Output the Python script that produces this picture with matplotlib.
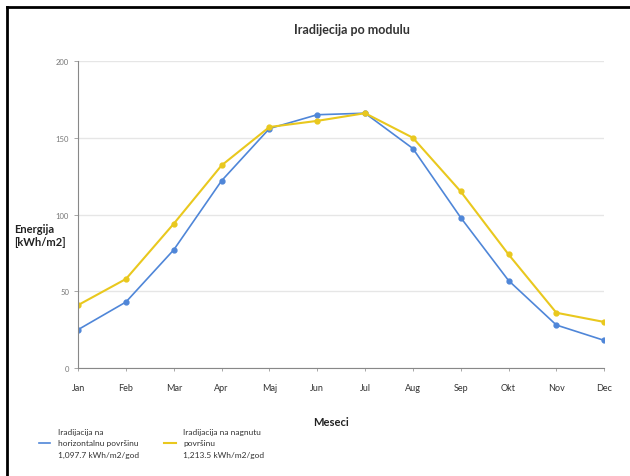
import matplotlib
matplotlib.use('Agg')
import matplotlib.pyplot as plt
from matplotlib.lines import Line2D

plt.rcParams['font.family'] = ['Lato', 'DejaVu Sans']

# Data
months = ['Jan', 'Feb', 'Mar', 'Apr', 'Maj', 'Jun', 'Jul', 'Aug', 'Sep', 'Okt', 'Nov', 'Dec']
horizontal = [25, 43, 77, 122, 156, 165, 166, 143, 98, 57, 28, 18]
tilted = [41, 58, 94, 132, 157, 161, 166, 150, 115, 74, 36, 30]
label_h = 'Iradijacija na\nhorizontalnu površinu\n1,097.7 kWh/m2/god'
label_t = 'Iradijacija na nagnutu\npovršinu\n1,213.5 kWh/m2/god'

blue = '#4f86d8'
yellow = '#e9c81e'

fig = plt.figure(figsize=(6.3, 4.77), dpi=100)
ax = fig.add_axes([0.124, 0.2264, 0.835, 0.6436])

x = list(range(len(months)))
ax.plot(x, horizontal, color=blue, marker='o', markersize=3.5, linewidth=1.2)
ax.plot(x, tilted, color=yellow, marker='o', markersize=3.5, linewidth=1.5)

ax.set_xlim(0, 11)
ax.set_ylim(0, 200)
ax.set_yticks([0, 50, 100, 150, 200])
ax.set_xticks(x)
ax.set_xticklabels(months, fontsize=6.5, color='#333333')
ax.tick_params(axis='y', labelsize=5.5, labelcolor='#777777', color='#999999', length=3, width=0.6)
ax.tick_params(axis='x', color='#999999', length=2.5, width=0.6, pad=8)
ax.grid(axis='y', color='#e6e6e6', linewidth=1)
ax.set_axisbelow(True)
for s in ['top', 'right']:
    ax.spines[s].set_visible(False)
ax.spines['left'].set_color('#888888')
ax.spines['bottom'].set_color('#888888')
ax.spines['left'].set_linewidth(0.8)
ax.spines['bottom'].set_linewidth(0.8)

fig.text(0.559, 0.937, 'Iradijecija po modulu', ha='center', va='center',
         fontsize=9, fontweight='bold', color='#333333')
fig.text(0.022, 0.505, 'Energija\n[kWh/m2]', ha='left', va='center',
         fontsize=8, fontweight='bold', color='#222222', linespacing=1.3)
fig.text(0.525, 0.115, 'Meseci', ha='center', va='center',
         fontsize=8, fontweight='bold', color='#222222')

handles = [Line2D([0], [0], color=blue, linewidth=1.2),
           Line2D([0], [0], color=yellow, linewidth=1.5)]
leg = fig.legend(handles, [label_h, label_t], loc='upper left', bbox_to_anchor=(0.055, 0.11),
                 ncol=2, frameon=False, fontsize=6, handlelength=1.4, columnspacing=3.0,
                 handletextpad=0.9, labelspacing=0.5, borderpad=0)
for t in leg.get_texts():
    t.set_linespacing(1.8)
    t.set_color('#333333')

# figure frame on left and top
fig.add_artist(Line2D([0.011, 0.011], [0, 0.983], color='black', linewidth=2))
fig.add_artist(Line2D([0.011, 1.0], [0.983, 0.983], color='black', linewidth=2))

fig.savefig('out.png', dpi=100)
